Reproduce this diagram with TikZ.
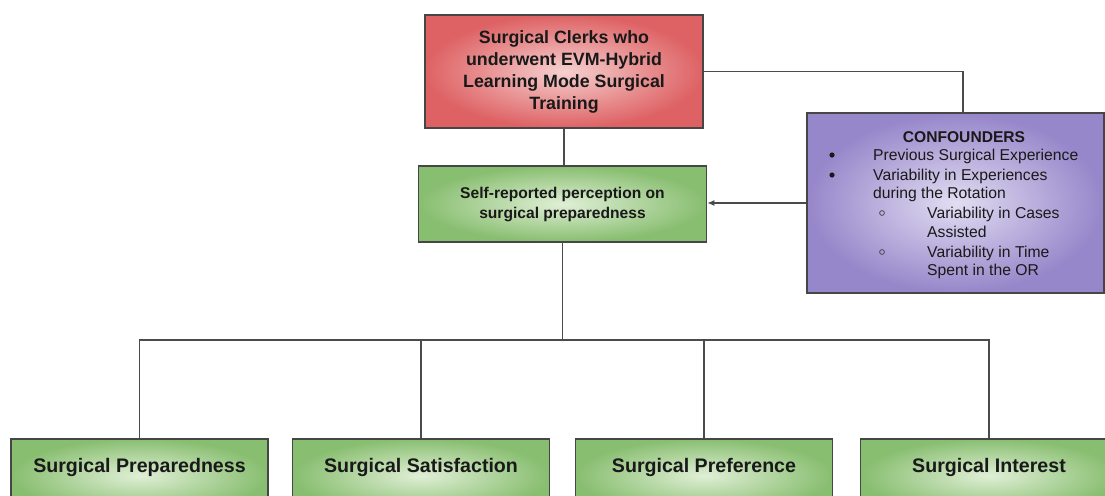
\documentclass[tikz,border=0pt]{standalone}
\usepackage{fontspec}
\setmainfont{Liberation Sans}
\usetikzlibrary{arrows.meta}

\definecolor{clerkIn}{RGB}{246,208,208}
\definecolor{clerkOut}{RGB}{222,98,100}
\definecolor{greenIn}{RGB}{224,239,214}
\definecolor{greenOut}{RGB}{136,190,112}
\definecolor{purpIn}{RGB}{226,221,242}
\definecolor{purpOut}{RGB}{150,134,202}
\definecolor{boxline}{RGB}{70,70,70}
\definecolor{linkcol}{RGB}{75,75,75}
\definecolor{textcol}{RGB}{25,25,25}

\begin{document}
\begin{tikzpicture}[x=1pt, y=-1pt,
    box/.style={draw=boxline, line width=1.5pt, shade, shading=radial, inner sep=0pt, align=center, text=textcol},
    clerkbox/.style={box, inner color=clerkIn, outer color=clerkOut, minimum width=278pt, minimum height=113pt, font=\fontsize{17.8}{22}\selectfont\bfseries},
    percbox/.style={box, inner color=greenIn, outer color=greenOut, minimum width=288pt, minimum height=76pt, font=\fontsize{15.6}{20}\selectfont\bfseries},
    confbox/.style={box, inner color=purpIn, outer color=purpOut, minimum width=297pt, minimum height=180pt},
    outbox/.style={box, inner color=greenIn, outer color=greenOut, minimum width=257pt, text height=34pt, text depth=40pt, font=\fontsize{19.6}{22}\selectfont\bfseries},
    conftext/.style={inner sep=0pt, text=textcol, font=\fontsize{15.7}{19}\selectfont},
    link/.style={draw=linkcol, line width=1.4pt}]

\useasboundingbox (0,0) rectangle (1105,495);

% ===== Main boxes =====
\node[clerkbox] (clerks) at (564,71.5) {Surgical Clerks who\\underwent EVM-Hybrid\\Learning Mode Surgical\\Training};
\node[percbox] (percep) at (562.5,204) {Self-reported perception on\\surgical preparedness};

% ===== Confounders box =====
\node[confbox] (conf) at (955.5,203) {};
\node[conftext, anchor=base, font=\fontsize{15.6}{19}\selectfont\bfseries] (conftitle) at (964,142.5) {CONFOUNDERS};
\node[conftext, anchor=base west] (prev) at (873,160) {Previous Surgical Experience};
\node[conftext, anchor=base west] (vary) at (873,180) {Variability in Experiences};
\node[conftext, anchor=base west] (rota) at (873,198) {during the Rotation};
\node[conftext, anchor=base west] (cases) at (927,218) {Variability in Cases};
\node[conftext, anchor=base west] (assist) at (927,237) {Assisted};
\node[conftext, anchor=base west] (time) at (927,257) {Variability in Time};
\node[conftext, anchor=base west] (spent) at (927,275) {Spent in the OR};
% bullets
\foreach \y in {155,175} {
    \fill[textcol] (832,\y) circle (2.6pt);
}
\foreach \y in {213,252} {
    \draw[linkcol, line width=0.8pt] (882,\y) circle (2.4pt);
}

% ===== Outcome boxes =====
\foreach \i/\x/\lbl in {1/139.5/Surgical Preparedness, 2/421/Surgical Satisfaction, 3/704/Surgical Preference, 4/989/Surgical Interest} {
    \node[outbox, anchor=north] (out\i) at (\x,438) {\lbl};
}

% ===== Connections =====
\coordinate (confin) at (963,113);
\coordinate (split) at (percep.south |- 0,340);
\draw[link] (clerks.south) -- (clerks.south |- percep.north);
\draw[link] (clerks.east) -| (confin);
\draw[link, -{Latex[length=7pt, width=6pt]}] (conf.west) -- (conf.west -| percep.east);
\draw[link] (percep.south) -- (split);
\foreach \i in {1,...,4} {
    \draw[link] (split) -| (out\i.north);
}

\end{tikzpicture}
\end{document}
